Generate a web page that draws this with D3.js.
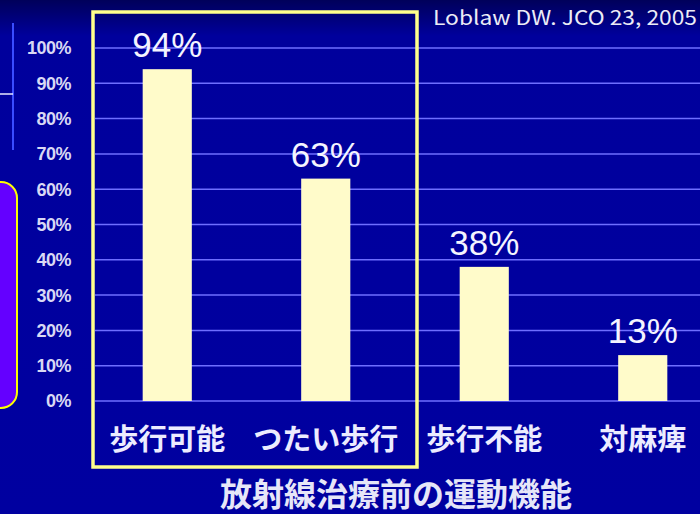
<!DOCTYPE html>
<meta charset="utf-8">
<head>
<script src="https://d3js.org/d3.v7.min.js"></script>
<style>
    body { margin: 0; background: #0000a0; }
    svg { display: block; }
    .tick-label {
        font-family: "Liberation Sans", Arial, sans-serif;
        font-weight: bold;
        font-size: 18px;
        fill: #d8d8f4;
    }
    .value-label {
        font-family: "Liberation Sans", Arial, sans-serif;
        font-size: 35px;
        fill: #f4f4ff;
    }
    .cat-label {
        font-family: "Noto Sans CJK JP", sans-serif;
        font-weight: bold;
        font-size: 29px;
        fill: #ececff;
    }
</style>
</head>
<body>
<svg id="chart" width="700" height="514"></svg>

<script>
    // data
    var categories = ["歩行可能", "つたい歩行", "歩行不能", "対麻痺"];
    var percents = [94, 63, 38, 13];
    var tickValues = [0, 10, 20, 30, 40, 50, 60, 70, 80, 90, 100];
    var titleText = "放射線治療前の運動機能";
    var sourceText = "Loblaw DW. JCO 23, 2005";

    var svg = d3.select("#chart"),
      width = +svg.attr("width"),
      height = +svg.attr("height");

    // background with a darker strip along the top
    var defs = svg.append("defs");
    var grad = defs.append("linearGradient")
      .attr("id", "bg")
      .attr("x1", 0).attr("y1", 0).attr("x2", 0).attr("y2", 1);
    grad.append("stop").attr("offset", "0%").attr("stop-color", "#00005a");
    grad.append("stop").attr("offset", "7%").attr("stop-color", "#00009c");
    grad.append("stop").attr("offset", "100%").attr("stop-color", "#0000a0");
    svg.append("rect")
      .attr("width", width).attr("height", height)
      .attr("fill", "url(#bg)");

    // scales
    var x = d3.scaleBand()
      .domain(categories)
      .range([88, 722])
      .paddingInner(0.69)
      .paddingOuter(0.345);
    var y = d3.scaleLinear()
      .domain([0, 100])
      .range([401, 48]);

    // grid lines
    svg.append("g")
      .selectAll("line")
      .data(tickValues)
      .enter()
      .append("line")
      .attr("x1", 95).attr("x2", width)
      .attr("y1", function(d) { return y(d); })
      .attr("y2", function(d) { return y(d); })
      .attr("stroke", "#6e6eff")
      .attr("stroke-width", 1.5);

    // y tick labels
    svg.append("g")
      .selectAll("text")
      .data(tickValues)
      .enter()
      .append("text")
      .attr("class", "tick-label")
      .attr("x", 71)
      .attr("y", function(d) { return y(d); })
      .attr("dy", "0.36em")
      .attr("text-anchor", "end")
      .attr("letter-spacing", "-0.5")
      .text(function(d) { return d + "%"; });

    // bars
    svg.append("g")
      .selectAll("rect")
      .data(percents)
      .enter()
      .append("rect")
      .attr("x", function(d, i) { return x(categories[i]); })
      .attr("y", function(d) { return y(d); })
      .attr("width", x.bandwidth())
      .attr("height", function(d) { return y(0) - y(d); })
      .attr("fill", "#fffbca");

    // value labels
    svg.append("g")
      .selectAll("text")
      .data(percents)
      .enter()
      .append("text")
      .attr("class", "value-label")
      .attr("x", function(d, i) { return x(categories[i]) + x.bandwidth() / 2; })
      .attr("y", function(d) { return y(d) - 12; })
      .attr("text-anchor", "middle")
      .text(function(d) { return d + "%"; });

    // category labels
    svg.append("g")
      .selectAll("text")
      .data(categories)
      .enter()
      .append("text")
      .attr("class", "cat-label")
      .attr("x", function(d) { return x(d) + x.bandwidth() / 2; })
      .attr("y", 440)
      .attr("dy", "0.36em")
      .attr("text-anchor", "middle")
      .text(function(d) { return d; });

    // yellow highlight box round the first two groups
    svg.append("rect")
      .attr("x", 93).attr("y", 12)
      .attr("width", 324).attr("height", 455)
      .attr("fill", "none")
      .attr("stroke", "#ffff8c")
      .attr("stroke-width", 3.5);

    // purple callout at the left edge
    svg.append("rect")
      .attr("x", -30).attr("y", 182)
      .attr("width", 47).attr("height", 226)
      .attr("rx", 16).attr("ry", 16)
      .attr("fill", "#6400ff")
      .attr("stroke", "#ffff00")
      .attr("stroke-width", 2);

    // little lines at the top left
    svg.append("line")
      .attr("x1", 13).attr("x2", 13).attr("y1", 23).attr("y2", 150)
      .attr("stroke", "#3a4cff").attr("stroke-width", 2);
    svg.append("line")
      .attr("x1", 0).attr("x2", 13).attr("y1", 94).attr("y2", 94)
      .attr("stroke", "#e8e8ff").attr("stroke-width", 1.5);

    // source
    svg.append("text")
      .attr("x", 433).attr("y", 25)
      .attr("textLength", 264)
      .attr("lengthAdjust", "spacingAndGlyphs")
      .style("font-family", "'Noto Sans CJK JP', sans-serif")
      .style("font-size", "20px")
      .style("fill", "#ececf6")
      .text(sourceText);

    // x axis title
    svg.append("text")
      .attr("x", 396).attr("y", 494)
      .attr("dy", "0.36em")
      .attr("text-anchor", "middle")
      .style("font-family", "'Noto Sans CJK JP', sans-serif")
      .style("font-weight", "bold")
      .style("font-size", "32px")
      .style("fill", "#e6e6f8")
      .text(titleText);
</script>
</body>
